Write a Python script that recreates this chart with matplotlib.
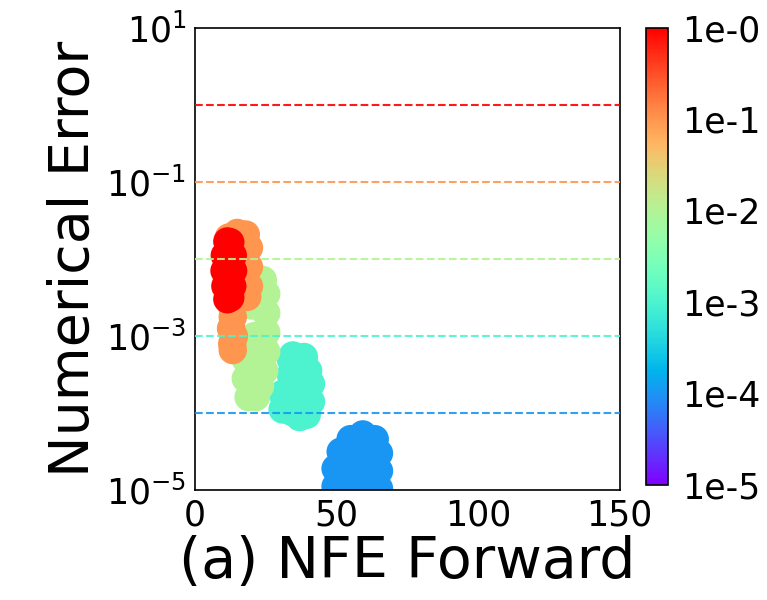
import numpy as np
import matplotlib
matplotlib.use("Agg")
import matplotlib.pyplot as plt
from matplotlib.colors import LogNorm
from matplotlib.cm import ScalarMappable

# Solver tolerances and the measured (NFE, error) pairs for each
tolerances = [1e0, 1e-1, 1e-2, 1e-3, 1e-4]

nfe_tol0 = [11.5, 12.5, 10.6, 13.4, 12.0, 10.5, 13.5, 12.0, 10.8, 13.2, 12.0, 11.5, 12.5]
err_tol0 = [1.70e-2, 1.66e-2, 1.12e-2, 1.12e-2, 1.0e-2, 7.08e-3, 7.08e-3, 6.31e-3,
            4.47e-3, 4.47e-3, 3.98e-3, 3.02e-3, 3.16e-3]

nfe_tol1 = [12.0, 15.0, 18.0, 19.1, 19.1, 19.1, 18.5, 16.0, 16.0, 11.6, 11.6, 13.0,
            13.4, 12.8, 13.8, 13.2, 13.4]
err_tol1 = [1.91e-2, 2.19e-2, 2.09e-2, 1.41e-2, 7.94e-3, 4.47e-3, 3.24e-3, 5.01e-3,
            1.0e-2, 7.94e-3, 3.98e-3, 2.51e-3, 1.78e-3, 1.26e-3, 1.0e-3, 7.94e-4, 6.61e-4]

nfe_tol2 = [24.0, 25.2, 25.2, 25.2, 25.2, 24.5, 23.0, 21.5, 19.0, 18.0, 18.0, 18.0,
            21.0, 22.0, 21.5, 22.0, 20.0]
err_tol2 = [5.37e-3, 3.55e-3, 2.0e-3, 1.12e-3, 6.31e-4, 3.55e-4, 2.24e-4, 1.62e-4,
            1.62e-4, 2.82e-4, 5.01e-4, 8.91e-4, 1.0e-3, 2.51e-3, 3.98e-4, 5.01e-3, 2.51e-3]

nfe_tol3 = [34.6, 38.5, 40.0, 41.0, 41.0, 39.5, 37.0, 34.0, 31.0, 31.0, 33.9, 33.9, 37.0, 37.0]
err_tol3 = [5.62e-4, 5.37e-4, 3.55e-4, 2.40e-4, 1.41e-4, 9.55e-5, 8.91e-5, 1.05e-4,
            1.12e-4, 1.78e-4, 3.16e-4, 5.01e-4, 3.16e-4, 1.78e-4]

nfe_tol4 = [59.3, 55.0, 63.5, 51.5, 65.0, 49.7, 65.0, 49.7, 65.0, 57.0, 61.0, 54.0,
            60.0, 57.0, 53.0, 62.0, 49.7, 65.0]
err_tol4 = [5.30e-5, 4.60e-5, 4.60e-5, 3.16e-5, 3.02e-5, 1.91e-5, 1.78e-5, 1.12e-5,
            1.05e-5, 2.82e-5, 2.82e-5, 1.58e-5, 1.58e-5, 8.91e-6, 7.94e-6, 7.94e-6,
            7.08e-6, 7.08e-6]

nfe_groups = [nfe_tol0, nfe_tol1, nfe_tol2, nfe_tol3, nfe_tol4]
err_groups = [err_tol0, err_tol1, err_tol2, err_tol3, err_tol4]

ytick_values = [1e1, 1e-1, 1e-3, 1e-5]
cbar_ticks = [1e0, 1e-1, 1e-2, 1e-3, 1e-4, 1e-5]
cbar_labels = ["1e-0", "1e-1", "1e-2", "1e-3", "1e-4", "1e-5"]

cmap = plt.get_cmap("rainbow")
norm = LogNorm(vmin=1e-5, vmax=1e0)

fig = plt.figure(figsize=(7.67, 6.0), dpi=100)
ax = fig.add_axes([0.254, 0.183, 0.554, 0.770])

# tightest tolerance first so the looser runs sit on top
for tol, xs, ys in reversed(list(zip(tolerances, nfe_groups, err_groups))):
    ax.scatter(xs, ys, s=420, color=cmap(norm(tol)), edgecolors="none", zorder=2)

for tol in tolerances:
    ax.axhline(tol, color=cmap(norm(tol)), linestyle="--", linewidth=1.5, alpha=0.9, zorder=3)

ax.set_yscale("log")
ax.set_xlim(0, 150)
ax.set_ylim(1e-5, 1e1)
ax.set_xticks([0, 50, 100, 150])
ax.set_yticks(ytick_values)
ax.minorticks_off()
ax.tick_params(axis="both", length=0, labelsize=25, pad=6)
for sp in ax.spines.values():
    sp.set_color("black")
    sp.set_linewidth(1.2)

ax.set_xlabel("(a) NFE Forward", fontsize=41, labelpad=2)
ax.set_ylabel("Numerical Error", fontsize=40, labelpad=4)

cax = fig.add_axes([0.842, 0.192, 0.0287, 0.762])
sm = ScalarMappable(norm=norm, cmap=cmap)
cb = fig.colorbar(sm, cax=cax)
cb.set_ticks(cbar_ticks)
cb.set_ticklabels(cbar_labels)
cb.minorticks_off()
cax.tick_params(length=0, labelsize=25, pad=10)
cb.outline.set_edgecolor("black")
cb.outline.set_linewidth(1.2)

fig.savefig("out.png", dpi=100, facecolor="white")
